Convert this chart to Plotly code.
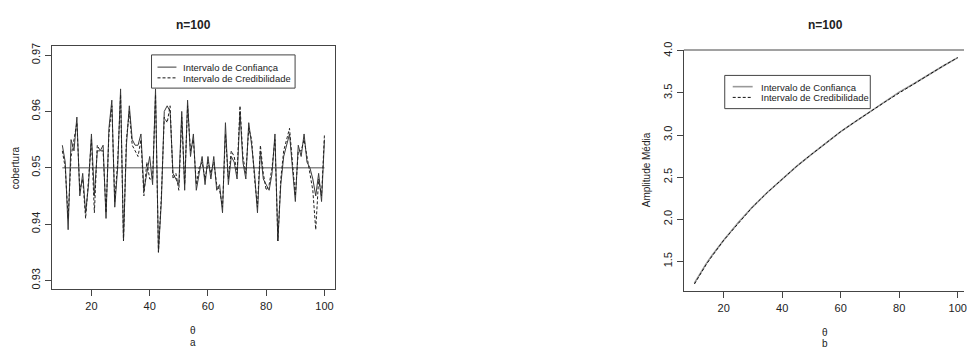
import plotly.graph_objects as go

theta = list(range(10, 101))
cobertura_confianca = [
    0.954, 0.951, 0.939, 0.955, 0.953, 0.959, 0.945, 0.949, 0.942, 0.947,
    0.956, 0.945, 0.953, 0.953, 0.954, 0.941, 0.957, 0.962, 0.943, 0.950,
    0.964, 0.937, 0.954, 0.961, 0.955, 0.954, 0.954, 0.956, 0.946, 0.949,
    0.952, 0.947, 0.964, 0.935, 0.944, 0.960, 0.961, 0.960, 0.949, 0.948,
    0.947, 0.960, 0.946, 0.962, 0.952, 0.956, 0.946, 0.949, 0.952, 0.947,
    0.952, 0.948, 0.952, 0.946, 0.947, 0.942, 0.958, 0.947, 0.952, 0.951,
    0.948, 0.960, 0.951, 0.948, 0.958, 0.954, 0.949, 0.942, 0.953, 0.948,
    0.947, 0.946, 0.949, 0.956, 0.937, 0.947, 0.952, 0.954, 0.956, 0.950,
    0.944, 0.954, 0.952, 0.956, 0.951, 0.950, 0.948, 0.945, 0.949, 0.944,
    0.955]
cobertura_credibilidade = [
    0.953, 0.950, 0.941, 0.952, 0.955, 0.958, 0.946, 0.948, 0.941, 0.948,
    0.955, 0.942, 0.954, 0.953, 0.953, 0.942, 0.956, 0.961, 0.944, 0.951,
    0.963, 0.937, 0.955, 0.960, 0.954, 0.953, 0.952, 0.955, 0.945, 0.951,
    0.948, 0.948, 0.963, 0.935, 0.945, 0.959, 0.958, 0.961, 0.948, 0.949,
    0.946, 0.959, 0.947, 0.961, 0.953, 0.955, 0.947, 0.950, 0.951, 0.948,
    0.951, 0.949, 0.951, 0.947, 0.946, 0.943, 0.956, 0.948, 0.953, 0.952,
    0.949, 0.961, 0.952, 0.949, 0.957, 0.955, 0.948, 0.943, 0.954, 0.949,
    0.946, 0.947, 0.950, 0.955, 0.937, 0.948, 0.953, 0.955, 0.957, 0.951,
    0.945, 0.953, 0.953, 0.955, 0.952, 0.949, 0.946, 0.939, 0.948, 0.945,
    0.956]
nivel_nominal = 0.95

theta_amp = [10, 12, 14, 16, 18, 20, 25, 30, 35, 40, 45, 50, 55, 60, 65, 70, 75, 80, 85, 90, 95, 100]
amplitude_confianca = [1.24, 1.36, 1.47, 1.57, 1.66, 1.75, 1.96, 2.15, 2.32, 2.48, 2.63, 2.77,
                       2.91, 3.04, 3.16, 3.28, 3.39, 3.51, 3.61, 3.72, 3.82, 3.92]
amplitude_credibilidade = [1.23, 1.35, 1.46, 1.56, 1.66, 1.75, 1.95, 2.15, 2.32, 2.48, 2.63, 2.77,
                           2.91, 3.04, 3.16, 3.28, 3.39, 3.50, 3.61, 3.72, 3.82, 3.92]

x_ticks = [20, 40, 60, 80, 100]
y_ticks_a = [0.93, 0.94, 0.95, 0.96, 0.97]
y_ticks_b = [1.5, 2.0, 2.5, 3.0, 3.5, 4.0]
legend_labels = ["Intervalo de Confiança", "Intervalo de Credibilidade"]

W, H = 967, 349
FONT = "Liberation Sans, Arial, sans-serif"
TXT = "#222"
FRAME = "#444"
DASH = "3px,2px"

fig = go.Figure()

# left panel: coverage
fig.add_trace(go.Scatter(x=[theta[0], theta[-1]], y=[nivel_nominal, nivel_nominal], mode="lines",
                         line=dict(color="#8a8a8a", width=1.6), showlegend=False, hoverinfo="skip",
                         xaxis="x", yaxis="y"))
fig.add_trace(go.Scatter(x=theta, y=cobertura_confianca, mode="lines", name=legend_labels[0],
                         line=dict(color="#3a3a3a", width=1), xaxis="x", yaxis="y", showlegend=False))
fig.add_trace(go.Scatter(x=theta, y=cobertura_credibilidade, mode="lines", name=legend_labels[1],
                         line=dict(color="#222", width=1, dash=DASH), xaxis="x", yaxis="y", showlegend=False))

# right panel: mean amplitude
fig.add_trace(go.Scatter(x=theta_amp, y=amplitude_confianca, mode="lines", name=legend_labels[0],
                         line=dict(color="#999", width=1.6), xaxis="x2", yaxis="y2", showlegend=False))
fig.add_trace(go.Scatter(x=theta_amp, y=amplitude_credibilidade, mode="lines", name=legend_labels[1],
                         line=dict(color="#111", width=1, dash=DASH), xaxis="x2", yaxis="y2", showlegend=False))

def px_x(p):
    return p / W

def px_y(p):
    return (H - p) / H

axis_common = dict(showgrid=False, zeroline=False, ticks="outside", ticklen=6, tickwidth=1,
                   tickcolor=FRAME, showline=True, linecolor=FRAME, linewidth=1,
                   ticklabeloverflow="allow",
                   tickfont=dict(family=FONT, size=11, color=TXT))

fig.update_layout(
    width=W, height=H, margin=dict(l=0, r=0, t=0, b=0),
    paper_bgcolor="white", plot_bgcolor="white",
    font=dict(family=FONT, color=TXT),
    showlegend=False,
    xaxis=dict(domain=[px_x(52), px_x(336)], range=[6.4, 103.6], tickvals=x_ticks,
               anchor="y", mirror=True, **axis_common),
    yaxis=dict(domain=[px_y(288), px_y(39)], range=[0.9284, 0.9716], tickvals=y_ticks_a,
               ticktext=[f"{v:.2f}" for v in y_ticks_a], tickangle=-90,
               anchor="x", mirror=True, **axis_common),
    xaxis2=dict(domain=[px_x(686), 1.0], range=[6.4, 6.4 + 281 / 2.935], tickvals=x_ticks,
                anchor="y2", **axis_common),
    yaxis2=dict(domain=[px_y(290), px_y(43)], range=[1.143, 4.01], tickvals=y_ticks_b,
                ticktext=[f"{v:.1f}" for v in y_ticks_b], tickangle=-90,
                anchor="x2", **axis_common),
)

shapes = []
# top line of right panel frame
shapes.append(dict(type="line", x0=px_x(686), x1=1.0, y0=px_y(43), y1=px_y(43),
                   line=dict(color=FRAME, width=1)))

ann = []

def legend_box(x0, x1, y0, y1, lx0, lx1, tx, rows, solid_color, solid_w):
    shapes.append(dict(type="rect", x0=px_x(x0), x1=px_x(x1), y0=px_y(y1), y1=px_y(y0),
                       line=dict(color=FRAME, width=1), fillcolor="white"))
    shapes.append(dict(type="line", x0=px_x(lx0), x1=px_x(lx1), y0=px_y(rows[0]), y1=px_y(rows[0]),
                       line=dict(color=solid_color, width=solid_w)))
    shapes.append(dict(type="line", x0=px_x(lx0), x1=px_x(lx1), y0=px_y(rows[1]), y1=px_y(rows[1]),
                       line=dict(color="#111", width=1, dash=DASH)))
    for lab, r in zip(legend_labels, rows):
        ann.append(dict(text=lab, x=px_x(tx), y=px_y(r), xanchor="left", height=10,
                        font=dict(size=9.5)))

legend_box(152, 296, 48, 82, 158, 177, 182, (60.5, 71.5), "#3a3a3a", 1)
legend_box(727, 873, 69, 103, 735, 755, 761, (80.5, 91.5), "#999", 1.6)

for s in shapes:
    s.update(xref="paper", yref="paper")

ann.append(dict(text="<b>n=100</b>", x=px_x(194), y=px_y(17), font=dict(size=12)))
ann.append(dict(text="<b>n=100</b>", x=px_x(828), y=px_y(17), font=dict(size=12)))
ann.append(dict(text="θ", x=px_x(194), y=px_y(330), font=dict(size=10)))
ann.append(dict(text="a", x=px_x(194), y=px_y(342), font=dict(size=10)))
ann.append(dict(text="θ", x=px_x(828), y=px_y(332), font=dict(size=10)))
ann.append(dict(text="b", x=px_x(828), y=px_y(343), font=dict(size=10)))
ann.append(dict(text="cobertura", x=px_x(15), y=px_y(163), textangle=-90, font=dict(size=10)))
ann.append(dict(text="Amplitude Média", x=px_x(648), y=px_y(165), textangle=-90, font=dict(size=10)))
for a in ann:
    a.setdefault("xanchor", "center")
    a.update(xref="paper", yref="paper", showarrow=False, yanchor="middle")
    a["font"].update(family=FONT, color=TXT)
fig.update_layout(annotations=ann, shapes=shapes)

post = ("var gd=document.getElementById('{plot_id}');"
        "document.body.style.margin='0';"
        "gd.style.position='fixed';gd.style.top='0px';gd.style.left='0px';")
fig.write_html("out.html", post_script=post, config={"displayModeBar": False})
